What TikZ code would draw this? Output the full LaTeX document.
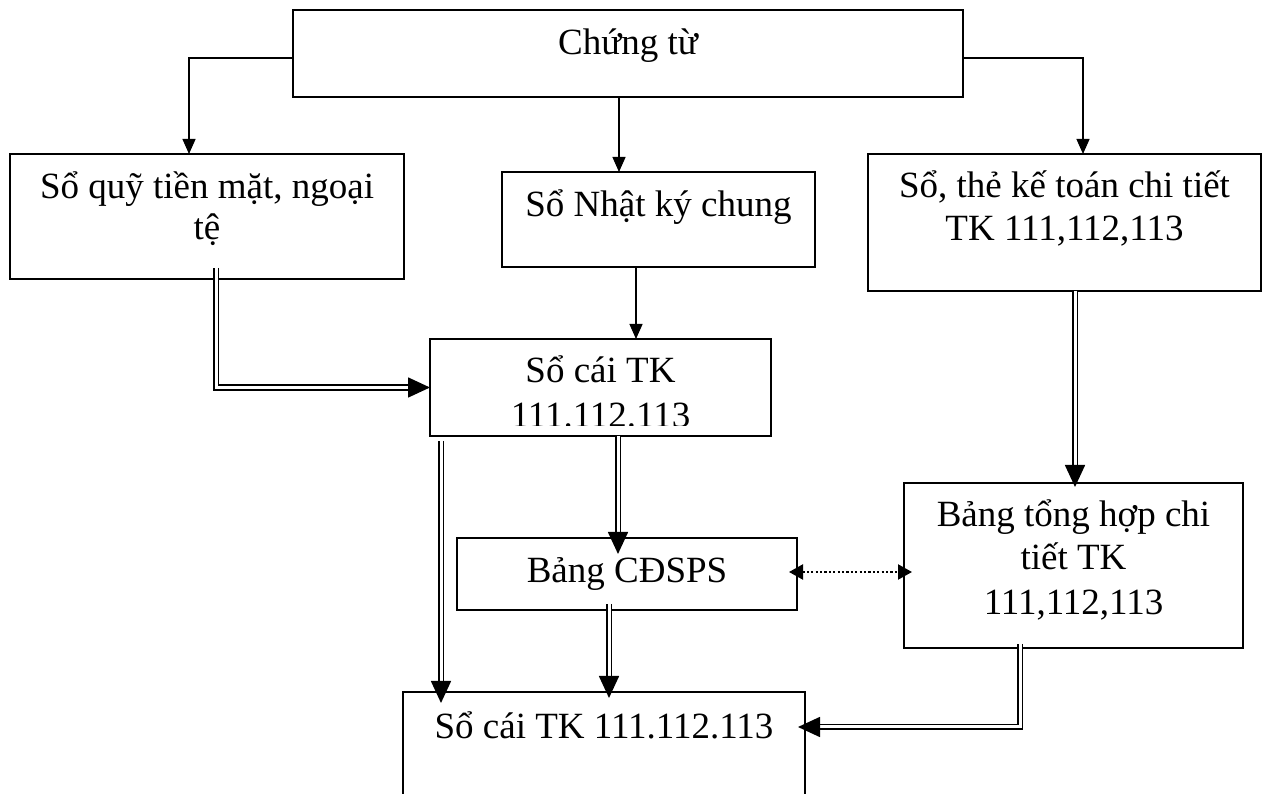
\documentclass[tikz,border=0pt]{standalone}
\usepackage{fontspec}
\setmainfont{Liberation Serif}
\usetikzlibrary{arrows.meta}
\begin{document}
\begin{tikzpicture}[x=1pt,y=1pt,
  box/.style={draw, line width=1.3pt, inner sep=0pt, outer sep=0pt},
  txt/.style={anchor=base, inner sep=0pt, font=\fontsize{37}{43}\selectfont},
  arr/.style={line width=1.3pt, -{Triangle[length=15pt,width=13pt]}},
  dbl/.style={line width=1.6pt, double, double distance=3pt, -{Triangle[length=22pt,width=20pt]}},
  dotarr/.style={line width=2.2pt, dash pattern=on 2.2pt off 2.2pt,
    {Triangle[length=14pt,width=15pt]}-{Triangle[length=14pt,width=15pt]}}]
\useasboundingbox (0,0) rectangle (1267,793);
\clip (0,0) rectangle (1267,793);

% boxes
\node[box, minimum width=670pt, minimum height=87pt]  (ct)  at (628,739.5) {};
\node[box, minimum width=394pt, minimum height=125pt] (qt)  at (207,576.5) {};
\node[box, minimum width=313pt, minimum height=95pt]  (nk)  at (658.5,573.5) {};
\node[box, minimum width=393pt, minimum height=137pt] (tct) at (1064.5,570.5) {};
\node[box, minimum width=341pt, minimum height=97pt]  (sc)  at (600.5,405.5) {};
\node[box, minimum width=340pt, minimum height=72pt]  (cd)  at (627,219) {};
\node[box, minimum width=339pt, minimum height=165pt] (th)  at (1073.5,227.5) {};
\node[box, minimum width=402pt, minimum height=138pt] (sc2) at (604,32) {};

% labels
\node[txt] (ct-a)  at (628,738) {Chứng từ};
\node[txt] (qt-a)  at (207,594) {Sổ quỹ tiền mặt, ngoại};
\node[txt] (qt-b)  at (207,553) {tệ};
\node[txt] (nk-a)  at (658.5,576) {Sổ Nhật ký chung};
\node[txt] (tct-a) at (1064.5,595) {Sổ, thẻ kế toán chi tiết};
\node[txt] (tct-b) at (1064.5,552) {TK 111,112,113};
\node[txt] (sc-a)  at (600.5,410) {Sổ cái TK};
\begin{scope}
  \clip (430,367.5) rectangle (771,454);
  \node[txt] (sc-b) at (600.5,365) {111.112.113};
\end{scope}
\node[txt] (cd-a)  at (627,210) {Bảng CĐSPS};
\node[txt] (th-a)  at (1073.5,266) {Bảng tổng hợp chi};
\node[txt] (th-b)  at (1073.5,223) {tiết TK};
\node[txt] (th-c)  at (1073.5,178) {111,112,113};
\node[txt] (sc2-a) at (604,55) {Sổ cái TK 111.112.113};

% single arrows from the source documents
\draw[arr] ([yshift=-4.5pt]ct.west) -| ([xshift=-18pt]qt.north);
\draw[arr] ([xshift=-9pt]ct.south) -- ([xshift=-9pt]ct.south |- nk.north);
\draw[arr] ([yshift=-4.5pt]ct.east) -| ([xshift=18.5pt]tct.north);
\draw[arr] ([xshift=-22.5pt]nk.south) -- ([xshift=-22.5pt]nk.south |- sc.north);

% double arrows
\draw[dbl] ([xshift=9pt,yshift=11pt]qt.south) |- (sc.west);
\draw[dbl] ([xshift=17.5pt]sc.south) -- ([xshift=-9pt,yshift=-16pt]cd.north);
\draw[dbl] ([xshift=-159.5pt,yshift=-5pt]sc.south) -- ([xshift=-163pt,yshift=-11pt]sc2.north);
\draw[dbl] ([xshift=-18pt,yshift=6pt]cd.south) -- ([xshift=5pt,yshift=-6pt]sc2.north);
\draw[dbl] ([xshift=10.5pt]tct.south) -- ([xshift=1.5pt,yshift=-4pt]th.north);
\draw[dbl] ([xshift=-53.5pt,yshift=4pt]th.south) |- ([xshift=-7pt,yshift=34pt]sc2.east);

% dotted two-way link
\draw[dotarr] ([xshift=-8pt,yshift=2pt]cd.east) -- ([xshift=8pt,yshift=-6.5pt]th.west);
\end{tikzpicture}
\end{document}
